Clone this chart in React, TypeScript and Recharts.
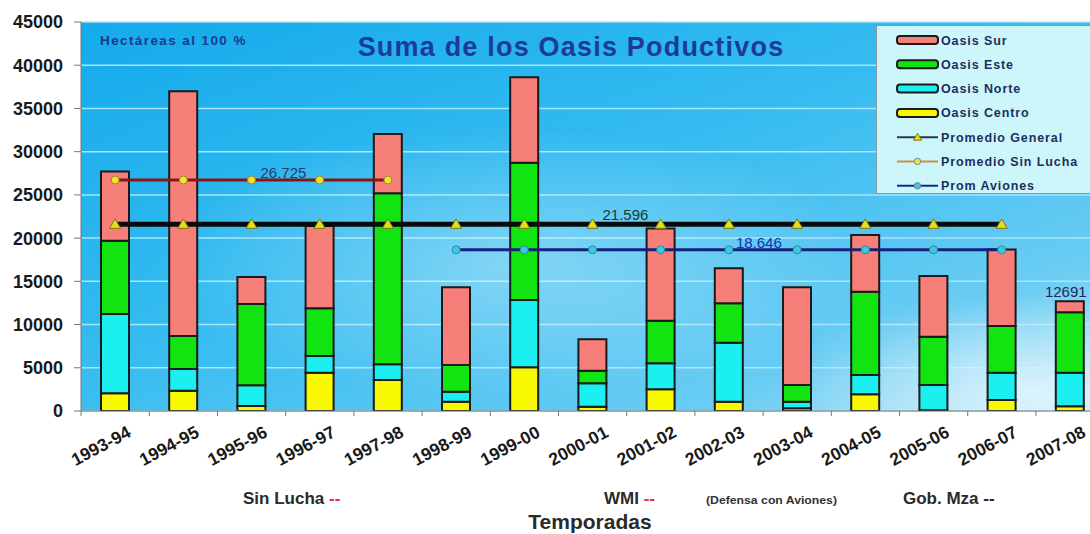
import React from 'react';
import { ComposedChart, Bar, Line, XAxis, YAxis, CartesianGrid, LabelList, ReferenceArea } from 'recharts';

const FONT = '"Liberation Sans", Arial, sans-serif';

const categories = ['1993-94', '1994-95', '1995-96', '1996-97', '1997-98', '1998-99', '1999-00', '2000-01', '2001-02', '2002-03', '2003-04', '2004-05', '2005-06', '2006-07', '2007-08'];
const oasisCentro = [2050, 2350, 580, 4430, 3590, 1080, 5050, 500, 2510, 1080, 310, 1930, 100, 1270, 550];
const oasisNorte = [9170, 2510, 2390, 1930, 1810, 1160, 7790, 2700, 3010, 6820, 770, 2230, 2910, 3160, 3880];
const oasisEste = [8480, 3820, 9410, 5520, 19780, 3080, 15890, 1460, 4930, 4560, 1930, 9640, 5590, 5400, 6990];
const oasisSur = [8000, 28310, 3120, 9520, 6870, 8990, 9890, 3630, 10650, 4050, 11300, 6560, 7020, 8860, 1271];
const promGeneral = [21596, 21596, 21596, 21596, 21596, 21596, 21596, 21596, 21596, 21596, 21596, 21596, 21596, 21596, null];
const promSinLucha = [26725, 26725, 26725, 26725, 26725, null, null, null, null, null, null, null, null, null, null];
const promAviones = [null, null, null, null, null, 18646, 18646, 18646, 18646, 18646, 18646, 18646, 18646, 18646, null];
const yTicks = [0, 5000, 10000, 15000, 20000, 25000, 30000, 35000, 40000, 45000];

const data = categories.map((season, i) => ({
  season,
  centro: oasisCentro[i],
  norte: oasisNorte[i],
  este: oasisEste[i],
  sur: oasisSur[i],
  total: oasisCentro[i] + oasisNorte[i] + oasisEste[i] + oasisSur[i],
  general: promGeneral[i],
  sinLucha: promSinLucha[i],
  aviones: promAviones[i],
}));

const fmtDot = (v: number) => String(v).replace(/\B(?=(\d{3})+(?!\d))/g, '.');

const TriangleDot = (props: any) => {
  const { cx, cy, index, value } = props;
  if (cx == null || cy == null || value == null) return <g key={`t${index}`} />;
  return (
    <path key={`t${index}`} d={`M${cx},${cy - 5.5} L${cx + 5.5},${cy + 4} L${cx - 5.5},${cy + 4} Z`} fill="#E4DE1E" stroke="#7D7A10" strokeWidth={1} />
  );
};

const circleDot = (fill: string, stroke: string) => (props: any) => {
  const { cx, cy, index, value } = props;
  if (cx == null || cy == null || value == null) return <g key={`c${index}`} />;
  return <circle key={`c${index}`} cx={cx} cy={cy} r={4} fill={fill} stroke={stroke} strokeWidth={1} />;
};

const lineLabel = (idx: number, color: string, dx: number, dy: number) => (props: any) => {
  const { x, y, index, value } = props;
  if (index !== idx || value == null) return null;
  return (
    <text x={x + dx} y={y + dy} fill={color} fontSize={15} fontFamily={FONT}>
      {fmtDot(value)}
    </text>
  );
};

const totalLabel = (props: any) => {
  const { x, y, width, index } = props;
  if (index !== categories.length - 1) return null;
  return (
    <text x={x + width / 2 - 4} y={y - 4} fill="#1B2A5A" fontSize={15} fontFamily={FONT} textAnchor="middle">
      {data[index].total}
    </text>
  );
};

const XTick = (props: any) => {
  const { x, y, payload } = props;
  return (
    <g transform={`translate(${x},${y})`}>
      <line x1={-34} x2={-34} y1={0} y2={5} stroke="#777" strokeWidth={1} />
      <text x={0} y={0} transform="translate(17,25) rotate(-28)" textAnchor="end" fontSize={17.5} fontWeight="bold" fill="#1a1a1a" fontFamily={FONT}>
        {payload.value}
      </text>
    </g>
  );
};

const legendItems = [
  { name: 'Oasis Sur', kind: 'rect', color: '#F77F7A' },
  { name: 'Oasis Este', kind: 'rect', color: '#12E412' },
  { name: 'Oasis Norte', kind: 'rect', color: '#1CEFEF' },
  { name: 'Oasis Centro', kind: 'rect', color: '#F8F800' },
  { name: 'Promedio General', kind: 'tri', color: '#2A3550', marker: '#E4DE1E' },
  { name: 'Promedio Sin Lucha', kind: 'circ', color: '#C8924A', marker: '#F4E23A' },
  { name: 'Prom Aviones', kind: 'circ', color: '#1A2A80', marker: '#3CC8E0' },
];

function LegendBox() {
  return (
    <svg width={216} height={170} style={{ position: 'absolute', left: 876, top: 25 }}>
      <rect x={0.5} y={0.5} width={220} height={168} fill="#CDF6FB" stroke="#8A969E" strokeWidth={1} />
      {legendItems.map((it, i) => {
        const cy = 15 + i * 24.3;
        return (
          <g key={it.name}>
            {it.kind === 'rect' ? (
              <rect x={21} y={cy - 4} width={41} height={8} rx={3} fill={it.color} stroke="#1a1a1a" strokeWidth={2} />
            ) : (
              <g>
                <line x1={21} x2={62} y1={cy} y2={cy} stroke={it.color} strokeWidth={2} />
                {it.kind === 'tri' ? (
                  <path d={`M41.5,${cy - 4} L45.5,${cy + 3} L37.5,${cy + 3} Z`} fill={it.marker} stroke="#7D7A10" strokeWidth={1} />
                ) : (
                  <circle cx={41.5} cy={cy} r={3.2} fill={it.marker} stroke="#6a8a90" strokeWidth={1} />
                )}
              </g>
            )}
            <text x={65} y={cy + 4.5} fontSize={12.5} fontWeight="bold" fill="#1E2E5E" fontFamily={FONT} letterSpacing={0.9}>
              {it.name}
            </text>
          </g>
        );
      })}
    </svg>
  );
}

function Overlay() {
  return (
    <svg width={1090} height={534} style={{ position: 'absolute', left: 0, top: 0, pointerEvents: 'none' }}>
      <text x={571} y={56} textAnchor="middle" fontSize={27} fontWeight="bold" fill="#1B3A9A" fontFamily={FONT} letterSpacing={1.2}>
        Suma de los Oasis Poductivos
      </text>
      <text x={100} y={45} fontSize={13.5} fontWeight="bold" fill="#1B3A8A" fontFamily={FONT} letterSpacing={1.4}>
        Hectáreas al 100 %
      </text>
      <text x={243} y={504} fontSize={17} fontWeight="bold" fill="#2a2a2a" fontFamily={FONT}>
        Sin Lucha <tspan fill="#E8323C">--</tspan>
      </text>
      <text x={604} y={504} fontSize={17} fontWeight="bold" fill="#2a2a2a" fontFamily={FONT}>
        WMI <tspan fill="#E8323C">--</tspan>
      </text>
      <text x={706} y={504} fontSize={11} fontWeight="bold" fill="#333" fontFamily={FONT} textLength={131} lengthAdjust="spacingAndGlyphs">
        (Defensa con Aviones)
      </text>
      <text x={903} y={504} fontSize={17} fontWeight="bold" fill="#2a2a2a" fontFamily={FONT}>
        Gob. Mza --
      </text>
      <text x={590} y={529} textAnchor="middle" fontSize={21} fontWeight="bold" fill="#2a2a2a" fontFamily={FONT}>
        Temporadas
      </text>
    </svg>
  );
}

export default function App() {
  return (
    <div style={{ position: 'absolute', left: 0, top: 0, width: 1090, height: 534, overflow: 'hidden', background: '#fff', fontFamily: FONT }}>
      <ComposedChart width={1110} height={534} data={data} margin={{ top: 22, right: 6, bottom: 63, left: 11 }} barSize={28} barGap={0}>
        <defs>
          <linearGradient id="skyBg" x1="0" y1="0" x2="1" y2="1">
            <stop offset="0" stopColor="#14AAEB" />
            <stop offset="0.45" stopColor="#36BCF0" />
            <stop offset="0.8" stopColor="#6ACCF3" />
            <stop offset="1" stopColor="#BFE9F8" />
          </linearGradient>
          <radialGradient id="cloud1" cx="0.42" cy="0.62" r="0.35">
            <stop offset="0" stopColor="#ffffff" stopOpacity="0.35" />
            <stop offset="1" stopColor="#ffffff" stopOpacity="0" />
          </radialGradient>
          <radialGradient id="cloud2" cx="0.93" cy="0.95" r="0.25">
            <stop offset="0" stopColor="#ffffff" stopOpacity="0.6" />
            <stop offset="1" stopColor="#ffffff" stopOpacity="0" />
          </radialGradient>
        </defs>
        <CartesianGrid vertical={false} stroke="#A6E6FC" strokeWidth={1.5} fill="url(#skyBg)" fillOpacity={1} />
        <ReferenceArea y1={0} y2={45000} fill="url(#cloud1)" fillOpacity={1} stroke="none" ifOverflow="visible" />
        <ReferenceArea y1={0} y2={45000} fill="url(#cloud2)" fillOpacity={1} stroke="none" ifOverflow="visible" />
        <XAxis dataKey="season" interval={0} height={60} tickSize={0} tickMargin={0} tick={<XTick />} axisLine={{ stroke: '#777', strokeWidth: 1 }} tickLine={false} />
        <YAxis domain={[0, 45000]} ticks={yTicks} width={70} interval={0} tickSize={7} tickMargin={11} axisLine={{ stroke: '#777', strokeWidth: 1 }} tickLine={{ stroke: '#777' }} tick={{ fill: '#1a1a1a', fontSize: 18, fontWeight: 'bold', fontFamily: FONT }} allowDataOverflow />
        <Bar dataKey="centro" stackId="a" fill="#F8F800" stroke="#1a1a1a" strokeWidth={2} isAnimationActive={false} />
        <Bar dataKey="norte" stackId="a" fill="#1CEFEF" stroke="#1a1a1a" strokeWidth={2} isAnimationActive={false} />
        <Bar dataKey="este" stackId="a" fill="#12E412" stroke="#1a1a1a" strokeWidth={2} isAnimationActive={false} />
        <Bar dataKey="sur" stackId="a" fill="#F77F7A" stroke="#1a1a1a" strokeWidth={2} isAnimationActive={false}>
          <LabelList dataKey="total" content={totalLabel} />
        </Bar>
        <Line dataKey="general" stroke="#0a0a0a" strokeWidth={5} dot={TriangleDot} activeDot={false} isAnimationActive={false} connectNulls={false}>
          <LabelList dataKey="general" content={lineLabel(7, '#163A2E', 10, -4)} />
        </Line>
        <Line dataKey="sinLucha" stroke="#8A1414" strokeWidth={3} dot={circleDot('#F2E03A', '#9A8A10')} activeDot={false} isAnimationActive={false} connectNulls={false}>
          <LabelList dataKey="sinLucha" content={lineLabel(2, '#2A3A6A', 9, -2)} />
        </Line>
        <Line dataKey="aviones" stroke="#16207E" strokeWidth={3} dot={circleDot('#3CC8E0', '#2A8FA0')} activeDot={false} isAnimationActive={false} connectNulls={false}>
          <LabelList dataKey="aviones" content={lineLabel(9, '#1530B0', 7, -2)} />
        </Line>
      </ComposedChart>
      <Overlay />
      <LegendBox />
    </div>
  );
}
